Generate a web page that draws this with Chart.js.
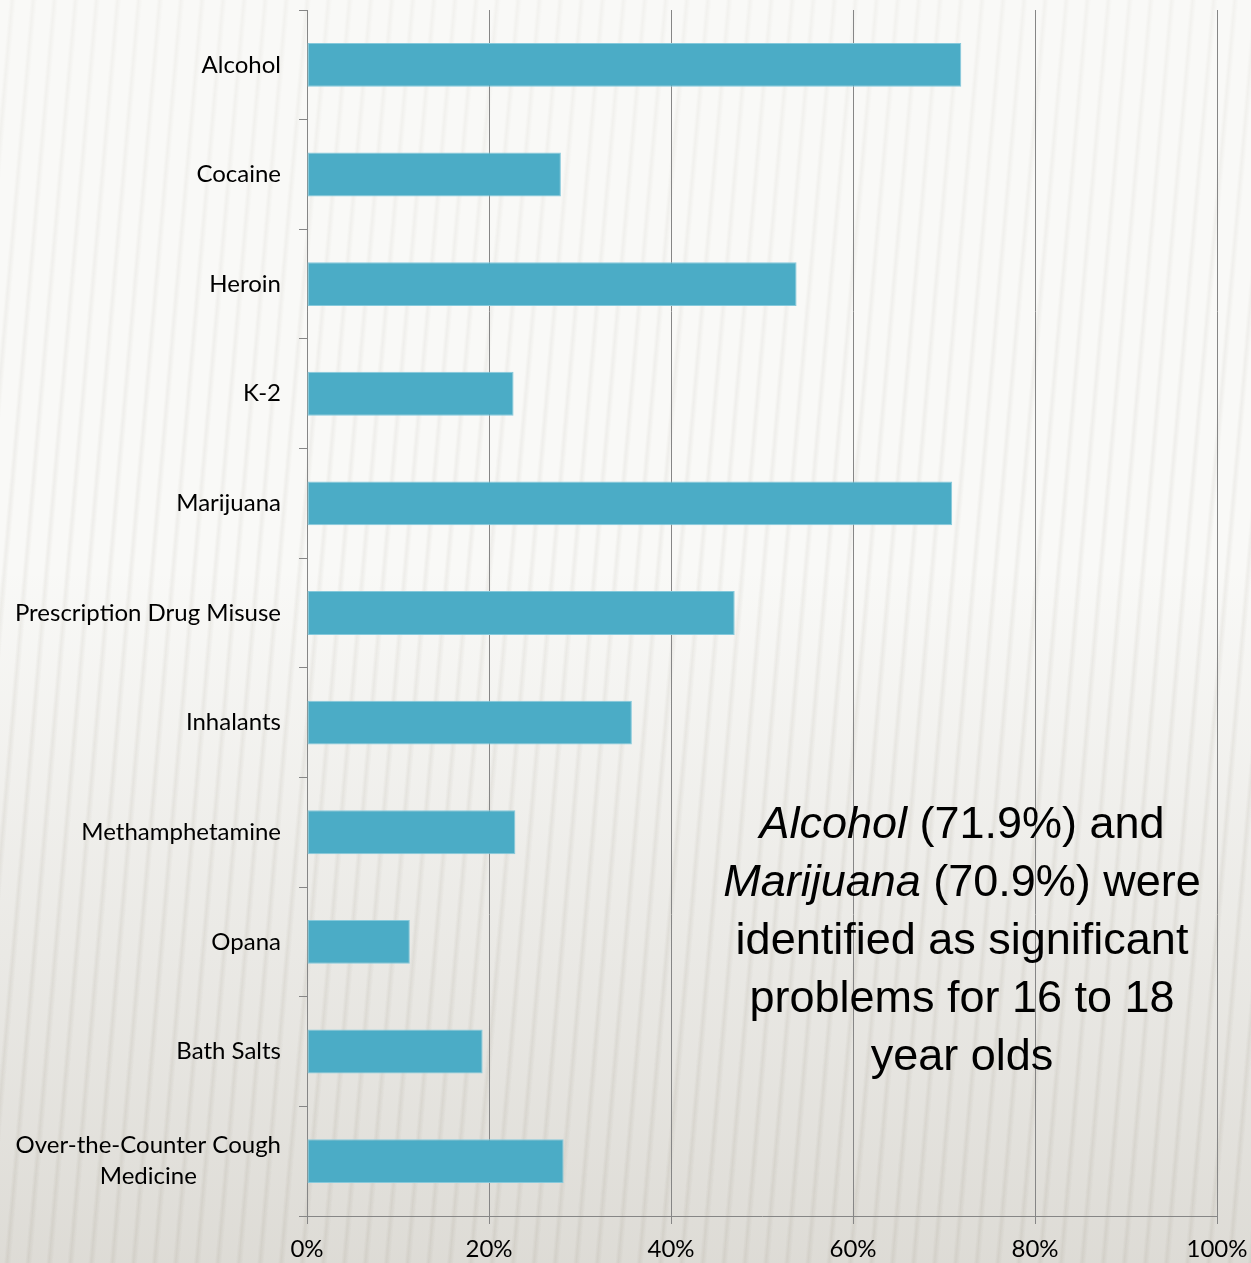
<!DOCTYPE html>
<html>
<head>
<meta charset="utf-8">
<script src="https://cdn.jsdelivr.net/npm/chart.js@4"></script>
<style>
  html, body { margin: 0; padding: 0; }
  body {
    width: 1251px; height: 1263px; overflow: hidden; position: relative;
    background-color: #f9f9f7;
    background-image:
      linear-gradient(to bottom, rgba(0,0,0,0) 45%, rgba(110,100,80,0.14) 85%, rgba(110,100,80,0.2) 100%);
  }
  #stripes {
    position: absolute; left: 0; top: 0; width: 1251px; height: 1263px;
    background-image:
      repeating-linear-gradient(95deg, rgba(255,255,255,0) 0px, rgba(255,255,255,0) 9px, rgba(185,180,168,0.28) 12px, rgba(255,255,255,0) 16px, rgba(255,255,255,0) 21px);
    -webkit-mask-image: linear-gradient(to bottom, rgba(0,0,0,0.35) 0%, rgba(0,0,0,0.6) 50%, rgba(0,0,0,1) 100%);
    mask-image: linear-gradient(to bottom, rgba(0,0,0,0.35) 0%, rgba(0,0,0,0.6) 50%, rgba(0,0,0,1) 100%);
  }
  #wrap { position: absolute; left: 0; top: 0; width: 1251px; height: 1263px; }
  #note {
    position: absolute; left: 700px; top: 794px; width: 524px;
    font-family: "Liberation Sans", Arial, sans-serif; font-size: 45px;
    line-height: 58px; text-align: center; color: #000;
  }
</style>
</head>
<body>
<div id="stripes"></div>
<div id="wrap"><canvas id="chart"></canvas></div>
<div id="note"><i>Alcohol</i> (71.9%) and <i>Marijuana</i> (70.9%) were identified as significant problems for 16 to 18 year olds</div>
<script>
const categories = ["Alcohol", "Cocaine", "Heroin", "K-2", "Marijuana", "Prescription Drug Misuse",
  "Inhalants", "Methamphetamine", "Opana", "Bath Salts", ["Over-the-Counter Cough", "Medicine"]];
const values = [71.9, 27.9, 53.8, 22.7, 70.9, 47.0, 35.7, 22.9, 11.3, 19.3, 28.2];
const xTicks = [0, 20, 40, 60, 80, 100];

const labelFont = '24px Lato, "Open Sans", sans-serif';

// draw y labels ourselves so the two-line label is centred like the original
const yLabels = {
  id: "yLabels",
  afterDraw(chart) {
    const ctx = chart.ctx;
    const y = chart.scales.y;
    const right = y.right - 26;
    ctx.save();
    ctx.font = labelFont;
    ctx.fillStyle = "#000";
    ctx.textBaseline = "middle";
    ctx.textAlign = "center";
    categories.forEach((lab, i) => {
      const lines = Array.isArray(lab) ? lab : [lab];
      const w = Math.max(...lines.map((l) => ctx.measureText(l).width));
      const cy = y.getPixelForTick(i);
      const lh = 31;
      lines.forEach((l, j) => {
        ctx.fillText(l, right - w / 2, cy + (j - (lines.length - 1) / 2) * lh);
      });
    });
    ctx.restore();
  }
};

new Chart(document.getElementById("chart"), {
  type: "bar",
  data: {
    labels: categories,
    datasets: [{
      data: values,
      backgroundColor: "#4bacc6",
      borderColor: "#86c9db",
      borderWidth: 1,
      borderSkipped: false,
      categoryPercentage: 1,
      barPercentage: 0.4
    }]
  },
  options: {
    indexAxis: "y",
    responsive: true,
    maintainAspectRatio: false,
    animation: false,
    layout: { padding: { top: 10, right: 34, left: 0, bottom: 0 } },
    plugins: { legend: { display: false }, tooltip: { enabled: false } },
    scales: {
      x: {
        min: 0, max: 100,
        afterBuildTicks: (s) => { s.ticks = xTicks.map((v) => ({ value: v })); },
        afterFit: (s) => { s.height = 47; s.paddingLeft = 0; s.paddingRight = 0; },
        grid: { color: "#868686", lineWidth: 1, tickLength: 8 },
        border: { color: "#868686", width: 1 },
        ticks: {
          color: "#000", padding: 11,
          font: { family: 'Lato, "Open Sans", sans-serif', size: 24 },
          maxRotation: 0,
          callback: (v) => v + "%"
        }
      },
      y: {
        afterFit: (s) => { s.width = 307; },
        grid: { offset: true, drawOnChartArea: false, color: "#868686", tickLength: 8 },
        border: { color: "#868686", width: 1 },
        ticks: { display: false }
      }
    }
  },
  plugins: [yLabels]
});
</script>
</body>
</html>
